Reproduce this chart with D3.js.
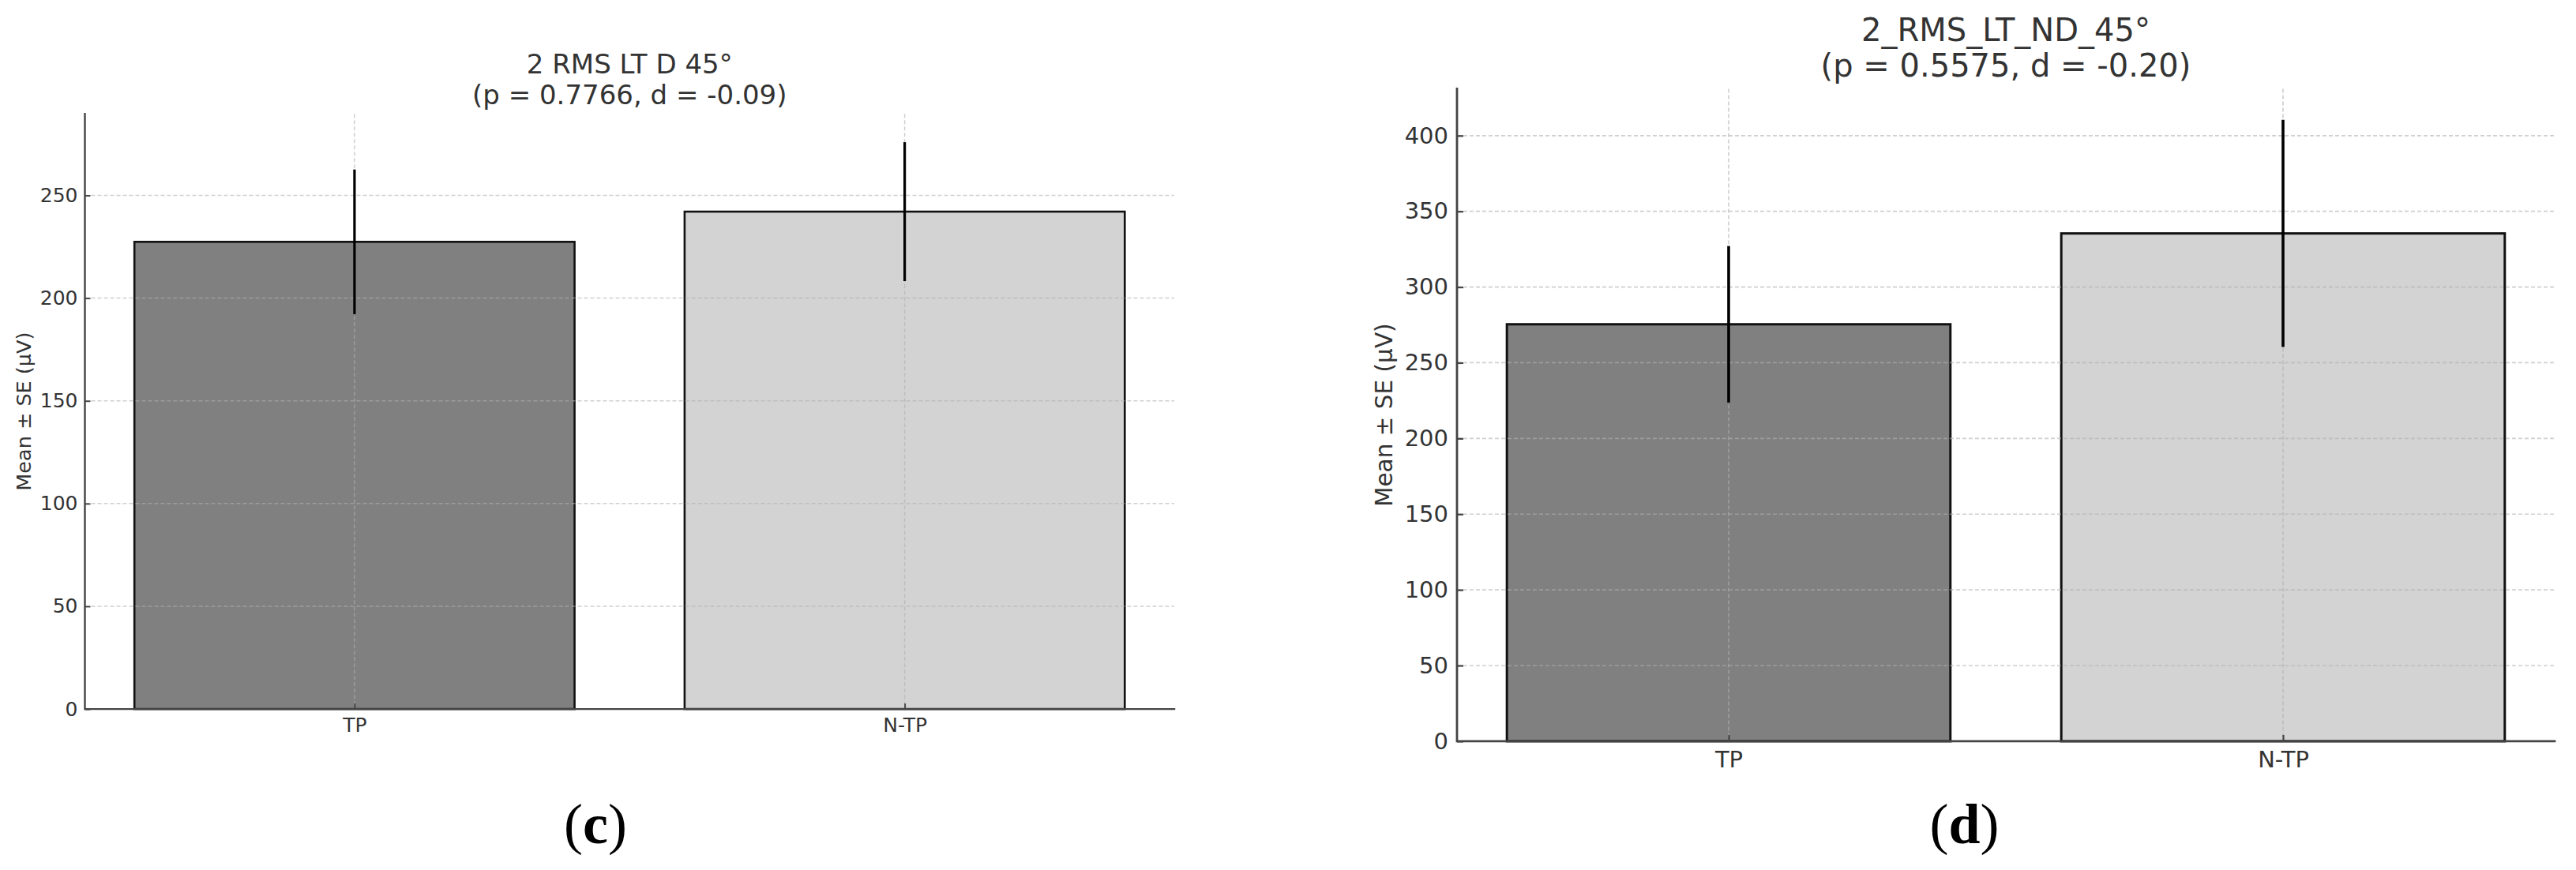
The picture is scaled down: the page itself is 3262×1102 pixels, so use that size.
<!DOCTYPE html>
<html>
<head>
<meta charset="utf-8">
<script src="https://cdn.jsdelivr.net/npm/d3@7"></script>
<style>
  html, body { margin: 0; padding: 0; background: #ffffff; }
  svg { display: block; }
  text { font-family: "DejaVu Sans", sans-serif; }
</style>
</head>
<body>
<svg id="chart" width="3262" height="1102"></svg>
<script>
// ---------- data ----------
const categories = ["TP", "N-TP"];
const barColors = ["#808080", "#d3d3d3"];

const titleC = ["2 RMS LT D 45°", "(p = 0.7766, d = -0.09)"];
const meansC = [227.4, 242.1];
const seC = [35.2, 33.8];
const ticksC = [0, 50, 100, 150, 200, 250];

const titleD = ["2_RMS_LT_ND_45°", "(p = 0.5575, d = -0.20)"];
const meansD = [275.4, 335.4];
const seD = [51.7, 75.0];
const ticksD = [0, 50, 100, 150, 200, 250, 300, 350, 400];

const yLabel = "Mean ± SE (µV)";
const captionLetters = ["c", "d"];

// ---------- layout ----------
const panels = [
  { title: titleC, means: meansC, se: seC, ticks: ticksC, letter: captionLetters[0],
    x0: 107.5, x1: 1487, yTop: 144.2, yBase: 898.1,
    tickFont: 25, titleFont: 34, labelFont: 25.5, titleBase: [93.3, 131.7],
    ylabX: 39, tickPad: 9, xLabelSpace: 11, tickLen: 7,
    barStroke: 2.6, errW: 3.2, spineW: 2.4, gridW: 1.5, capX: 754, capY: 1068 },
  { title: titleD, means: meansD, se: seD, ticks: ticksD, letter: captionLetters[1],
    x0: 1845, x1: 3235, yTop: 112.5, yBase: 938.9,
    tickFont: 29, titleFont: 40, labelFont: 29.5, titleBase: [51.7, 96.7],
    ylabX: 1763, tickPad: 11, xLabelSpace: 12.5, tickLen: 8,
    barStroke: 3, errW: 3.6, spineW: 2.8, gridW: 1.7, capX: 2487.5, capY: 1068 }
];

const svg = d3.select("#chart");
svg.append("rect").attr("width", 3262).attr("height", 1102).attr("fill", "#ffffff");

panels.forEach(p => {
  const g = svg.append("g");
  const ymaxData = d3.max(p.means.map((m, i) => m + p.se[i]));
  const y = d3.scaleLinear().domain([0, ymaxData * 1.05]).range([p.yBase, p.yTop]);
  const x = d3.scaleLinear().domain([-0.49, 1.49]).range([p.x0, p.x1]);
  const bw = 0.8;

  // bars
  g.selectAll("rect.bar").data(p.means).join("rect")
    .attr("class", "bar")
    .attr("x", (d, i) => x(i - bw / 2))
    .attr("width", (d, i) => x(i + bw / 2) - x(i - bw / 2))
    .attr("y", d => y(d))
    .attr("height", d => y(0) - y(d))
    .attr("fill", (d, i) => barColors[i])
    .attr("stroke", "#111")
    .attr("stroke-width", p.barStroke);

  // grid lines (over bars)
  const grid = g.append("g").attr("stroke", "#b0b0b0").attr("stroke-opacity", 0.6)
    .attr("stroke-width", p.gridW).attr("stroke-dasharray", "5,3");
  grid.selectAll("line.h").data(p.ticks.filter(t => t > 0)).join("line")
    .attr("class", "h")
    .attr("x1", p.x0).attr("x2", p.x1)
    .attr("y1", d => y(d)).attr("y2", d => y(d));
  grid.selectAll("line.v").data(categories).join("line")
    .attr("class", "v")
    .attr("x1", (d, i) => x(i)).attr("x2", (d, i) => x(i))
    .attr("y1", p.yTop).attr("y2", p.yBase);

  // error bars
  g.selectAll("line.err").data(p.means).join("line")
    .attr("class", "err")
    .attr("x1", (d, i) => x(i)).attr("x2", (d, i) => x(i))
    .attr("y1", (d, i) => y(d - p.se[i]))
    .attr("y2", (d, i) => y(d + p.se[i]))
    .attr("stroke", "#000")
    .attr("stroke-width", p.errW);

  // y axis
  const ya = g.append("g").attr("transform", `translate(${p.x0},0)`)
    .call(d3.axisLeft(y).tickValues(p.ticks).tickSize(-p.tickLen).tickSizeOuter(0)
      .tickPadding(p.tickPad).tickFormat(d3.format("d")));
  ya.select(".domain").remove();
  ya.selectAll(".tick line").attr("stroke", "#444").attr("stroke-width", p.spineW * 0.8);
  ya.selectAll(".tick text").attr("fill", "#333").style("font-size", p.tickFont + "px")
    .style("font-family", "'DejaVu Sans', sans-serif");

  // x axis
  const xa = g.append("g").attr("transform", `translate(0,${p.yBase})`)
    .call(d3.axisBottom(x).tickValues([0, 1]).tickSize(-p.tickLen).tickSizeOuter(0)
      .tickPadding(p.xLabelSpace).tickFormat(i => categories[i]));
  xa.select(".domain").remove();
  xa.selectAll(".tick line").attr("stroke", "#444").attr("stroke-width", p.spineW * 0.8);
  xa.selectAll(".tick text").attr("fill", "#333").style("font-size", p.tickFont + "px")
    .style("font-family", "'DejaVu Sans', sans-serif");

  // spines (left + bottom)
  g.append("path")
    .attr("d", `M${p.x0},${p.yTop}V${p.yBase}H${p.x1}`)
    .attr("fill", "none").attr("stroke", "#444").attr("stroke-width", p.spineW)
    .attr("stroke-linecap", "square");

  // title
  const cx = (p.x0 + p.x1) / 2;
  p.title.forEach((t, k) => {
    g.append("text").attr("x", cx).attr("y", p.titleBase[k])
      .attr("text-anchor", "middle").attr("fill", "#333")
      .style("font-size", p.titleFont + "px").text(t);
  });

  // y label
  g.append("text")
    .attr("transform", `translate(${p.ylabX},${(p.yTop + p.yBase) / 2}) rotate(-90)`)
    .attr("text-anchor", "middle").attr("fill", "#333")
    .style("font-size", p.labelFont + "px").text(yLabel);

  // caption: regular parentheses, bold letter
  const cap = g.append("text").attr("x", p.capX).attr("y", p.capY)
    .attr("text-anchor", "middle").attr("fill", "#000")
    .style("font-family", "'Liberation Serif', 'Times New Roman', serif")
    .style("font-size", "72px");
  cap.append("tspan").style("font-weight", "normal").text("(");
  cap.append("tspan").style("font-weight", "bold").text(p.letter);
  cap.append("tspan").style("font-weight", "normal").text(")");
});
</script>
</body>
</html>
